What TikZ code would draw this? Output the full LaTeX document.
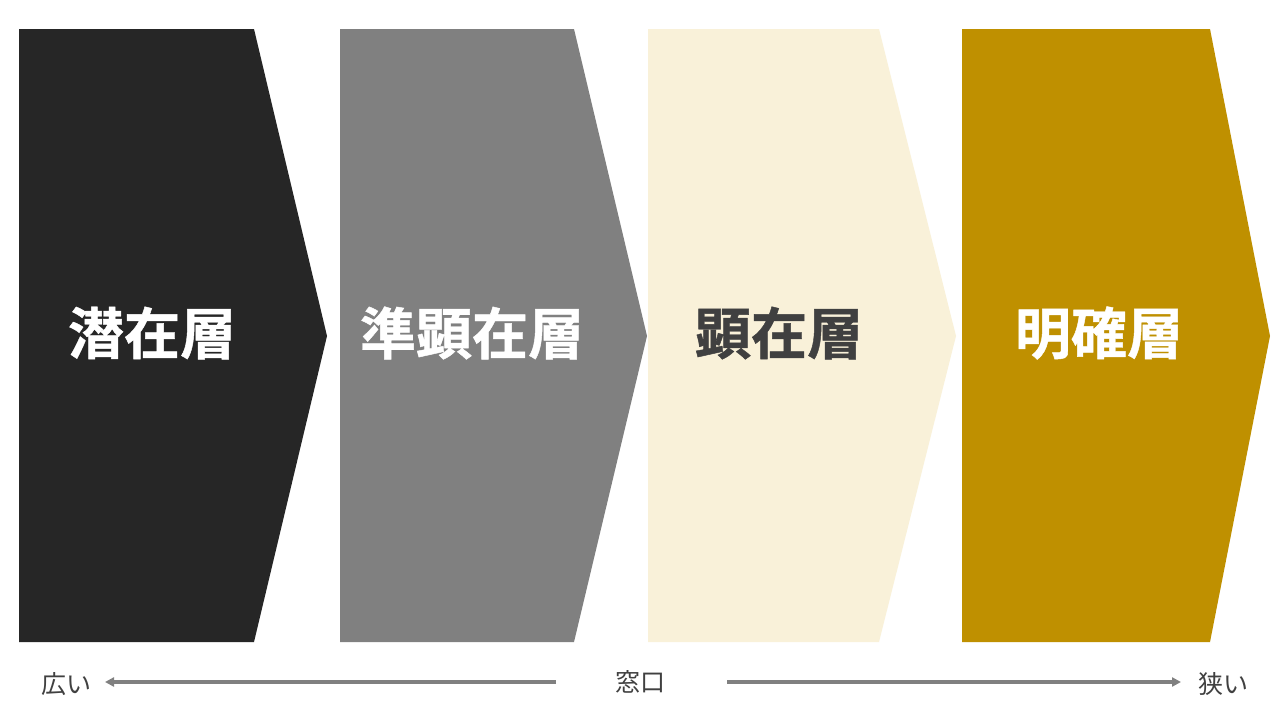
\documentclass[tikz,border=0pt]{standalone}
\usepackage{fontspec}
\newfontfamily\cjk{Noto Sans CJK JP}
\newfontfamily\cjkb[FakeBold=0.8]{Noto Sans CJK JP Bold}
\usetikzlibrary{arrows.meta}
\definecolor{c1}{HTML}{262626}
\definecolor{c2}{HTML}{808080}
\definecolor{c3}{HTML}{F9F1D9}
\definecolor{c4}{HTML}{BF9000}
\definecolor{txtdark}{HTML}{404040}
\begin{document}
\begin{tikzpicture}[x=1pt,y=-1pt,
  lbl/.style={font=\cjkb\fontsize{56}{56}\selectfont, inner sep=0pt},
  small/.style={font=\cjk\fontsize{25}{25}\selectfont, text=txtdark, inner sep=0pt},
  axis/.style={draw=c2, line width=3.5pt, -{Triangle[length=9pt,width=9pt]}}]
\useasboundingbox (0,0) rectangle (1280,720);
\fill[white] (0,0) rectangle (1280,720);
\fill[c1] (19,29) -- (254,29) -- (327,336) -- (254,642) -- (19,642) -- cycle;
\fill[c2] (340,29) -- (574,29) -- (647,336) -- (574,642) -- (340,642) -- cycle;
\fill[c3] (648,29) -- (879,29) -- (956,336) -- (879,642) -- (648,642) -- cycle;
\fill[c4] (962,29) -- (1210,29) -- (1270,336) -- (1210,642) -- (962,642) -- cycle;
\node[lbl, text=white] (t1) at (152,333) {潜在層};
\node[lbl, text=white] (t2) at (472,333) {準顕在層};
\node[lbl, text=txtdark] (t3) at (779,333) {顕在層};
\node[lbl, text=white] (t4) at (1099,333) {明確層};
\node[small] (wide) at (66,684) {広い};
\node[small] (win) at (640,682) {窓口};
\node[small] (narrow) at (1223,684) {狭い};
\coordinate (ls) at (556,682);
\coordinate (le) at (105,682);
\coordinate (rs) at (727,682);
\coordinate (re) at (1181,682);
\draw[axis] (ls) -- (le);
\draw[axis] (rs) -- (re);
\end{tikzpicture}
\end{document}
